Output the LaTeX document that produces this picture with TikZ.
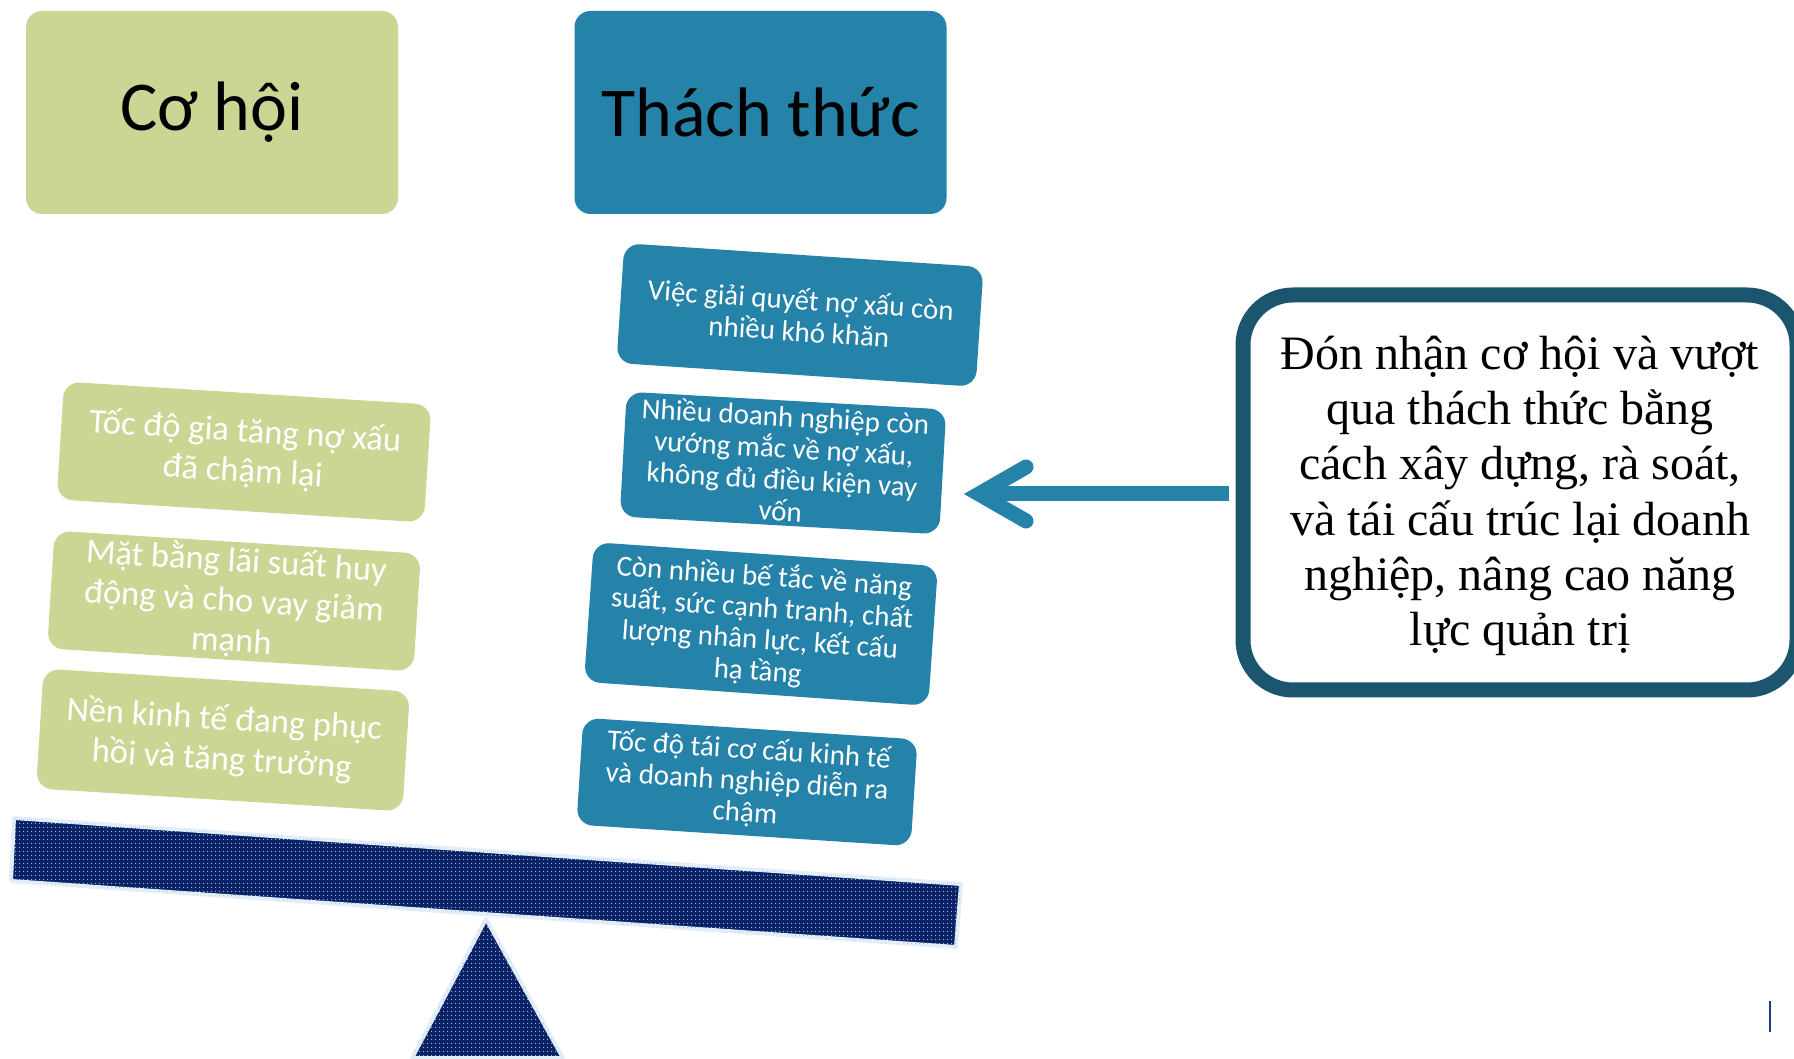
\documentclass[tikz,border=0pt]{standalone}
\usepackage{fontspec}
\setmainfont{Carlito}
\newfontfamily\boxserif{Liberation Serif}
\usetikzlibrary{calc,patterns.meta}
\definecolor{oppgreen}{RGB}{204,214,148}
\definecolor{chalteal}{RGB}{37,130,168}
\definecolor{framedark}{RGB}{28,85,110}
\definecolor{beamnavy}{RGB}{12,34,102}
\definecolor{beamdot}{RGB}{170,190,225}
\definecolor{glowblue}{RGB}{225,238,248}
\definecolor{cursorblue}{RGB}{31,60,140}
\begin{document}
\begin{tikzpicture}[x=1pt,y=1pt,
  header/.style={rounded corners=16pt, minimum width=372pt, minimum height=203pt, inner sep=0pt, font=\fontsize{70}{84}\selectfont, text=black},
  tealbox/.style={fill=chalteal, rounded corners=16pt, inner sep=0pt, align=center, text=white, font=\fontsize{29}{31.5}\selectfont},
  greenbox/.style={fill=oppgreen, rounded corners=16pt, inner sep=0pt, align=center, text=white, font=\fontsize{34.5}{40}\selectfont},
  beampart/.style={fill=beamnavy, draw=glowblue, line width=4pt, line join=round},
  beamdots/.style={pattern={Dots[distance=4pt, radius=0.7pt]}, pattern color=beamdot},
  thinkbox/.style={draw=framedark, fill=white, line width=15pt, rounded corners=50pt, minimum width=554pt, minimum height=395pt, inner sep=0pt, align=center, font=\boxserif\fontsize{48}{55.2}\selectfont},
  arrowline/.style={draw=chalteal, line width=15pt}
]
\useasboundingbox (0,0) rectangle (1794,1058);

% headers
\node[header, fill=oppgreen] (hopp) at (212,945.5) {Cơ hội};
\node[header, fill=chalteal] (hchal) at (760.5,945.5) {Thách thức};

% challenge boxes
\node[tealbox, minimum width=360pt, minimum height=120pt, rotate=-3.8] (t1) at (800,743)
  {Việc giải quyết nợ xấu còn\\nhiều khó khăn};
\node[tealbox, minimum width=320pt, minimum height=125pt, rotate=-3.2] (t2) at (783,595)
  {Nhiều doanh nghiệp còn\\vướng mắc về nợ xấu,\\không đủ điều kiện vay\\vốn};
\node[tealbox, minimum width=345pt, minimum height=140pt, rotate=-4] (t3) at (761,434)
  {Còn nhiều bế tắc về năng\\suất, sức cạnh tranh, chất\\lượng nhân lực, kết cấu\\hạ tầng};
\node[tealbox, minimum width=335pt, minimum height=107pt, rotate=-3.7] (t4) at (747,276)
  {Tốc độ tái cơ cấu kinh tế\\và doanh nghiệp diễn ra\\chậm};

% opportunity boxes
\node[greenbox, minimum width=368pt, minimum height=118pt, rotate=-3.6] (g1) at (244,606)
  {Tốc độ gia tăng nợ xấu\\đã chậm lại};
\node[greenbox, minimum width=367pt, minimum height=118pt, rotate=-3.6] (g2) at (234,457)
  {Mặt bằng lãi suất huy\\động và cho vay giảm\\mạnh};
\node[greenbox, minimum width=367pt, minimum height=120pt, rotate=-3.6] (g3) at (223,318)
  {Nền kinh tế đang phục\\hồi và tăng trưởng};

% seesaw
\path[beampart] (486,139) -- (563,0) -- (412,0) -- cycle;
\path[beamdots] (486,139) -- (563,0) -- (412,0) -- cycle;
\path[beampart] (14,240) -- (961,174) -- (956,111) -- (11,177) -- cycle;
\path[beamdots] (14,240) -- (961,174) -- (956,111) -- (11,177) -- cycle;

% conclusion box
\node[thinkbox] (goal) at (1520,565.5)
  {\raisebox{-4pt}[\height][\depth]{\begin{tabular}{@{}c@{}}Đón nhận cơ hội và vượt\\qua thách thức bằng\\cách xây dựng, rà soát,\\và tái cấu trúc lại doanh\\nghiệp, nâng cao năng\\lực quản trị\end{tabular}}};

% arrow
\coordinate (ashaft) at ($(goal.west)+(-6.5,-1.5)$);
\coordinate (atip) at (979,564);
\draw[arrowline] (ashaft) -- (atip);
\draw[arrowline, line cap=round, line join=miter] ($(atip)+(47,27)$) -- (atip) -- ($(atip)+(47,-27)$);

% small mark
\draw[cursorblue, line width=2.5pt] (1770,26) -- (1770,57);
\end{tikzpicture}
\end{document}
